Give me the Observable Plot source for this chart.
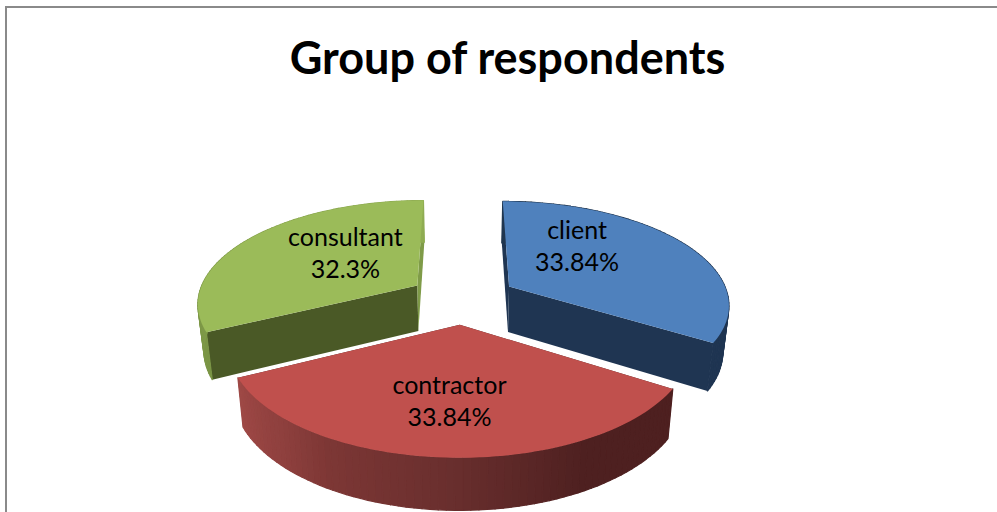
<!DOCTYPE html>
<html>
<head>
<meta charset="utf-8">
<script src="https://cdn.jsdelivr.net/npm/d3@7"></script>
<script src="https://cdn.jsdelivr.net/npm/@observablehq/plot@0.6"></script>
<style>
html,body{margin:0;padding:0;background:#fff;overflow:hidden}
svg{display:block}
</style>
</head>
<body>
<div id="chart"></div>
<script>
// Data
const title = "Group of respondents";
const categories = ["client", "contractor", "consultant"];
const shares = [33.84, 33.84, 32.3];

// Styling per slice
const topColors = ["#4f81bd", "#c0504d", "#9bbb59"];
const startFace = ["#1f3552", "#4e2020", "#4a5926"];
const endFace = ["#1f3552", "#4e2020", "#7f9b48"];
const rimStops = [
  {at: [0, 1], colors: ["#20364f", "#1f3552"]},
  {at: [0, .25, .5, .72, .82, 1], colors: ["#4e2020", "#4e2020", "#6a2f2e", "#7d3735", "#8d3f3d", "#9f4946"]},
  {at: [0, 1], colors: ["#7a9445", "#8fac52"]}
];

// Pie in perspective: polar position on a tilted plane -> chart coordinates
const cx = 462, cy = 298, R = 220, explode = 54.3, d = 1375, k = 0.465, depth = 46, converge = 0.977;
const labelPolar = [[39.6, 119], [183.9, 139], [312.2, 109]];

const total = d3.sum(shares);
const rad = a => a * Math.PI / 180;
let acc = 0;
const slices = shares.map((v, i) => {
  const a0 = acc / total * 360; acc += v;
  const a1 = acc / total * 360;
  const mid = (a0 + a1) / 2;
  return {i, a0, a1, ax: explode * Math.sin(rad(mid)), ay: -explode * Math.cos(rad(mid))};
});
function project(X, Y, down) {
  const s = 1 / (1 - Y / d);
  let x = cx + X * s;
  let y = cy + k * Y * s;
  if (down) { x = cx + (x - cx) * converge; y += depth * Math.pow(s, 0.6); }
  return [x, y];
}
const polar = (sl, ang, r, down) =>
  project(sl.ax + r * Math.sin(rad(ang)), sl.ay - r * Math.cos(rad(ang)), down);

const faces = [], rims = [], tops = [];
const pushPoly = (arr, id, fill, pts) => [...pts, pts[0]].forEach(([x, y]) => arr.push({id, fill, x, y}));
for (const sl of slices) {
  const apexT = polar(sl, 0, 0, false), apexB = polar(sl, 0, 0, true);
  pushPoly(faces, `s${sl.i}`, startFace[sl.i], [apexT, polar(sl, sl.a0, R, false), polar(sl, sl.a0, R, true), apexB]);
  pushPoly(faces, `e${sl.i}`, endFace[sl.i], [apexT, polar(sl, sl.a1, R, false), polar(sl, sl.a1, R, true), apexB]);
  const color = d3.scaleLinear(rimStops[sl.i].at, rimStops[sl.i].colors);
  const n = 70;
  const arc = [];
  for (let j = 0; j <= n; j++) arc.push(sl.a0 + (sl.a1 - sl.a0) * j / n);
  for (let j = 0; j < n; j++) {
    pushPoly(rims, `r${sl.i}-${j}`, color((j + .5) / n), [
      polar(sl, arc[j], R, false), polar(sl, arc[j + 1], R, false),
      polar(sl, arc[j + 1], R, true), polar(sl, arc[j], R, true)]);
  }
  pushPoly(tops, `t${sl.i}`, topColors[sl.i], [apexT, ...arc.map(a => polar(sl, a, R, false))]);
}
const labels = slices.map(sl => {
  const [x, y] = polar(sl, labelPolar[sl.i][0], labelPolar[sl.i][1], false);
  return {x, y, text: `${categories[sl.i]}\n${shares[sl.i]}%`};
});
const polyOpts = {x: "x", y: "y", z: "id", fill: "fill", curve: "linear"};

const chart = Plot.plot({
  width: 997, height: 512,
  margin: 0,
  x: {domain: [0, 997], range: [0, 997], axis: null},
  y: {domain: [0, 512], range: [0, 512], axis: null},
  color: {type: "identity"},
  style: {background: "#fff"},
  marks: [
    Plot.ruleY([6.5], {x1: 5, x2: 997, stroke: "#8a8a8a", strokeWidth: 2}),
    Plot.ruleX([5.5], {y1: 6, y2: 512, stroke: "#8a8a8a", strokeWidth: 2}),
    Plot.line(faces, polyOpts),
    Plot.line(rims, {...polyOpts, stroke: "fill", strokeWidth: 1.2}),
    Plot.line(tops, polyOpts),
    Plot.text([title], {x: () => 507, y: () => 59, text: d => d, fontFamily: "Lato", fontWeight: 700, fontSize: 45, fill: "#000", textAnchor: "middle"}),
    Plot.text(labels, {x: "x", y: "y", dx: 1, dy: -3, text: "text", fontFamily: "Lato", fontSize: 25, lineHeight: 1.28, fill: "#000", textAnchor: "middle"})
  ]
});
document.getElementById("chart").appendChild(chart);
</script>
</body>
</html>
